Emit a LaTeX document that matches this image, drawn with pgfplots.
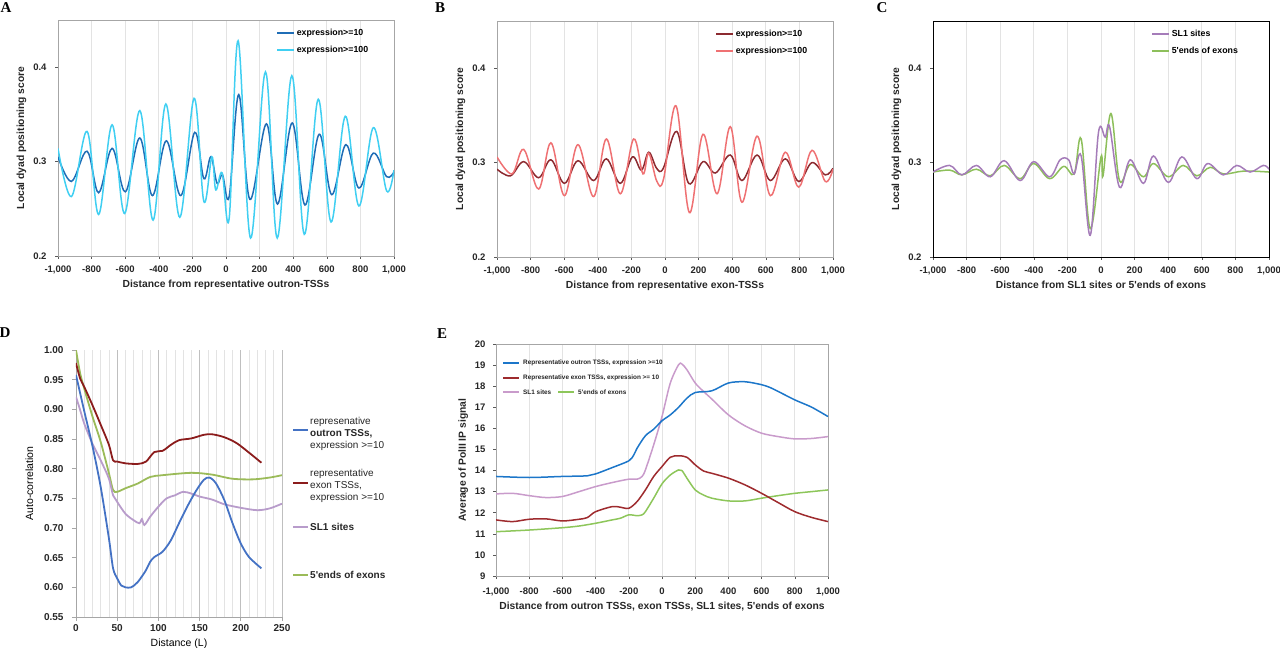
\documentclass[border=0pt]{standalone}
\usepackage{fontspec}
\setmainfont{Liberation Sans}[Ligatures=TeXOff]
\newfontfamily\letterfont{Liberation Serif}
\usepackage{pgfplots}
\pgfplotsset{compat=1.18}
\definecolor{Adark}{HTML}{1F6DB6}
\definecolor{Alight}{HTML}{40CFF2}
\definecolor{Bdark}{HTML}{8C2A30}
\definecolor{Blight}{HTML}{EF7173}
\definecolor{Cpurple}{HTML}{A57CB9}
\definecolor{Cgreen}{HTML}{8DBF5B}
\definecolor{Dblue}{HTML}{4472C4}
\definecolor{Dred}{HTML}{8B1C1C}
\definecolor{Dgreen}{HTML}{9BBB59}
\definecolor{Dpurple}{HTML}{B89CCB}
\definecolor{Eblue}{HTML}{1C76C9}
\definecolor{Ered}{HTML}{9E2B2E}
\definecolor{Epink}{HTML}{C99BCB}
\definecolor{Egreen}{HTML}{8DC65A}
\pgfkeys{/pgf/number format/.cd, assume math mode=true, 1000 sep={,}}
\pgfplotsset{
  dyad/.style={
    scale only axis, width=336pt, height=236pt,
    xmin=-1000, xmax=1000, ymin=0.2, ymax=0.45,
    xtick={-1000,-800,...,1000}, ytick={0.2,0.3,0.4},
    yticklabels={0.2,0.3,0.4},
    tick pos=left, tick align=outside, major tick length=3pt,
    tick style={gray!70!black, line width=0.6pt},
    axis line style={gray!70, line width=0.8pt},
    xmajorgrids, major grid style={gray!22, line width=0.8pt},
    ticklabel style={font=\bfseries\fontsize{9.5}{11}\selectfont, text=black!85},
    xticklabel shift=3pt, yticklabel shift=5pt,
    label style={font=\bfseries\fontsize{10.3}{12}\selectfont, text=black!85},
    ylabel={Local dyad positioning score},
    legend cell align=left,
    legend image code/.code={\draw[#1, line width=1.5pt] (0pt,0pt) -- (17pt,0pt);},
    legend style={at={(0.649,0.97)}, anchor=north west, draw=none, fill=none,
      inner sep=0pt, row sep=5pt, font=\bfseries\fontsize{8.8}{10}\selectfont},
    every axis plot/.append style={line width=1.5pt, smooth, tension=0.6},
  }
}
\begin{document}
\begin{tikzpicture}
\useasboundingbox (0pt,0pt) rectangle (1280pt,648pt);

% ---------------- A ----------------
\begin{axis}[dyad, at={(58pt,392pt)}, anchor=south west,
  xlabel={Distance from representative outron-TSSs}]
\addplot[Adark] coordinates {(-1000,0.305) (-920,0.279) (-827,0.311) (-758,0.267) (-678,0.314) (-599,0.268) (-513,0.325) (-438,0.264) (-355,0.322) (-269,0.264) (-186,0.331) (-132,0.282) (-90,0.305) (-53,0.277) (-21,0.286) (19,0.263) (76,0.371) (142,0.260) (241,0.340) (307,0.255) (394,0.341) (470,0.254) (555,0.329) (629,0.265) (714,0.318) (791,0.272) (877,0.309) (956,0.284) (1000,0.289)};
\addlegendentry{expression>=10}
\addplot[Alight] coordinates {(-1000,0.314) (-920,0.263) (-827,0.332) (-758,0.244) (-678,0.339) (-603,0.245) (-513,0.354) (-434,0.238) (-358,0.361) (-275,0.241) (-190,0.367) (-132,0.258) (-84,0.305) (-61,0.270) (-23,0.288) (19,0.240) (72,0.428) (146,0.219) (235,0.395) (305,0.219) (392,0.391) (466,0.223) (549,0.366) (625,0.236) (710,0.348) (791,0.253) (877,0.336) (956,0.269) (1000,0.291)};
\addlegendentry{expression>=100}
\end{axis}

% ---------------- B ----------------
\begin{axis}[dyad, at={(497pt,391pt)}, anchor=south west,
  xlabel={Distance from representative exon-TSSs}]
\addplot[Bdark] coordinates {(-1000,0.293) (-920,0.286) (-841,0.301) (-752,0.284) (-679,0.303) (-599,0.278) (-518,0.302) (-425,0.281) (-349,0.304) (-266,0.278) (-194,0.306) (-140,0.292) (-97,0.311) (-50,0.294) (-10,0.294) (70,0.333) (141,0.278) (226,0.301) (300,0.289) (389,0.308) (458,0.281) (548,0.308) (627,0.281) (716,0.304) (796,0.280) (875,0.300) (954,0.287) (1000,0.294)};
\addlegendentry{expression>=10}
\addplot[Blight] coordinates {(-1000,0.306) (-911,0.288) (-841,0.314) (-752,0.272) (-679,0.321) (-599,0.265) (-518,0.319) (-425,0.264) (-349,0.325) (-266,0.267) (-187,0.325) (-131,0.288) (-97,0.310) (-48,0.280) (-8,0.283) (66,0.360) (145,0.247) (226,0.330) (310,0.267) (389,0.338) (458,0.258) (548,0.328) (627,0.265) (716,0.311) (796,0.274) (875,0.313) (954,0.280) (1000,0.293)};
\addlegendentry{expression>=100}
\end{axis}

% ---------------- C ----------------
\begin{axis}[dyad, at={(933pt,391pt)}, anchor=south west,
  axis line style={black, line width=0.8pt},
  xlabel={Distance from SL1 sites or 5'ends of exons}]
\addplot[Cgreen, forget plot] coordinates {(-1000,0.290) (-900,0.292) (-828,0.287) (-742,0.293) (-659,0.286) (-576,0.297) (-481,0.283) (-401,0.299) (-306,0.283) (-222,0.296) (-160,0.288) (-118,0.325) (-64,0.230) (0,0.306) (12,0.286) (59,0.352) (110,0.281) (174,0.298) (253,0.285) (312,0.299) (401,0.285) (490,0.297) (570,0.286) (650,0.295) (729,0.288) (850,0.291) (1000,0.290)};
\addplot[Cpurple] coordinates {(-1000,0.290) (-901,0.297) (-828,0.287) (-742,0.297) (-659,0.285) (-576,0.302) (-481,0.281) (-401,0.301) (-306,0.285) (-243,0.303) (-193,0.303) (-160,0.288) (-118,0.307) (-64,0.223) (-15,0.332) (25,0.327) (51,0.338) (110,0.274) (174,0.303) (253,0.278) (312,0.307) (401,0.279) (481,0.306) (570,0.283) (635,0.299) (729,0.287) (808,0.297) (887,0.290) (966,0.297) (1000,0.293)};
\addlegendentry{SL1 sites}
\addlegendimage{Cgreen}
\addlegendentry{5'ends of exons}
\end{axis}

% ---------------- D ----------------
\begin{axis}[at={(76pt,31pt)}, anchor=south west, scale only axis,
  width=206pt, height=267pt,
  xmin=0, xmax=250, ymin=0.55, ymax=1.0,
  xtick={0,50,...,250},
  ytick={0.55,0.6,0.65,0.7,0.75,0.8,0.85,0.9,0.95,1},
  yticklabels={0.55,0.60,0.65,0.70,0.75,0.80,0.85,0.90,0.95,1.00},
  axis x line*=bottom, axis y line*=left,
  axis line style={-, gray!70, line width=0.8pt},
  tick align=outside, major tick length=4pt, minor tick length=0pt,
  tick style={gray!70, line width=0.6pt},
  yticklabel shift=5pt,
  minor xtick={10,20,...,240}, xmajorgrids, xminorgrids,
  major grid style={gray!50, line width=0.8pt},
  minor grid style={gray!22, line width=0.6pt},
  ticklabel style={font=\bfseries\fontsize{10}{11}\selectfont, text=black!85},
  xlabel={Distance (L)}, ylabel={Auto-correlation},
  label style={font=\fontsize{10.5}{12}\selectfont},
  ylabel shift=4pt,
  every axis plot/.append style={line width=1.8pt, smooth, tension=0.5},
]
\addplot[Dgreen] coordinates {(0,1.00) (5,0.961) (10,0.935) (20,0.888) (30,0.845) (40,0.792) (45,0.764) (50,0.761) (60,0.767) (75,0.775) (90,0.786) (105,0.789) (140,0.793) (165,0.790) (190,0.783) (215,0.782) (235,0.785) (250,0.789)};
\addplot[Dpurple] coordinates {(0,0.921) (5,0.899) (10,0.876) (20,0.842) (30,0.814) (40,0.783) (45,0.755) (50,0.744) (60,0.724) (70,0.713) (77,0.708) (80,0.715) (83,0.705) (90,0.719) (100,0.736) (110,0.750) (120,0.755) (130,0.761) (140,0.758) (150,0.753) (165,0.748) (180,0.740) (200,0.734) (220,0.730) (235,0.733) (250,0.741)};
\addplot[Dred] coordinates {(0,0.978) (5,0.952) (10,0.938) (20,0.907) (30,0.874) (40,0.840) (45,0.814) (50,0.812) (60,0.809) (75,0.808) (85,0.812) (95,0.828) (105,0.830) (115,0.840) (125,0.848) (140,0.851) (155,0.857) (165,0.858) (180,0.853) (195,0.843) (210,0.827) (225,0.810)};
\addplot[Dblue] coordinates {(0,0.958) (10,0.897) (20,0.838) (30,0.769) (40,0.682) (45,0.632) (50,0.615) (55,0.603) (60,0.600) (67,0.600) (75,0.609) (85,0.629) (90,0.643) (95,0.651) (105,0.660) (115,0.679) (125,0.708) (135,0.736) (145,0.761) (155,0.781) (162,0.785) (170,0.775) (180,0.747) (190,0.708) (200,0.674) (210,0.651) (225,0.632)};
\end{axis}
% legend D
\begin{scope}[every node/.style={anchor=west, align=left, inner sep=0pt, font=\fontsize{10}{12}\selectfont, text=black!85}]
\draw[Dblue, line width=2pt] (293pt,218pt) -- (308pt,218pt);
\node at (310pt,214pt) {represenative\\\textbf{outron TSSs,}\\expression >=10};
\draw[Dred, line width=2pt] (293pt,165pt) -- (308pt,165pt);
\node at (310pt,162pt) {representative\\exon TSSs,\\expression >=10};
\draw[Dpurple, line width=2pt] (293pt,121pt) -- (308pt,121pt);
\node at (310pt,121pt) {\textbf{SL1 sites}};
\draw[Dgreen, line width=2pt] (293pt,73pt) -- (308pt,73pt);
\node at (310pt,73pt) {\textbf{5'ends of exons}};
\end{scope}

% ---------------- E ----------------
\begin{axis}[at={(496pt,72pt)}, anchor=south west, scale only axis,
  width=332pt, height=232pt,
  xmin=-1000, xmax=1000, ymin=9, ymax=20,
  xtick={-1000,-800,...,1000}, ytick={9,10,...,20},
  tick pos=left, tick align=outside, major tick length=3pt,
  tick style={gray!70!black, line width=0.6pt},
  axis line style={gray!70, line width=0.8pt},
  xmajorgrids, major grid style={gray!22, line width=0.8pt},
  ticklabel style={font=\bfseries\fontsize{9.5}{11}\selectfont, text=black!85},
  xticklabel shift=5pt, yticklabel shift=4pt,
  label style={font=\bfseries\fontsize{10.3}{12}\selectfont, text=black!85},
  xlabel={Distance from outron TSSs, exon TSSs, SL1 sites, 5'ends of exons},
  ylabel={Average of PolII IP signal},
  every axis plot/.append style={line width=1.5pt, smooth, tension=0.5},
]
\addplot[Egreen] coordinates {(-1000,11.10) (-800,11.18) (-600,11.29) (-500,11.37) (-400,11.50) (-300,11.66) (-250,11.74) (-200,11.90) (-150,11.86) (-120,11.90) (-100,12.05) (-50,12.69) (0,13.37) (50,13.79) (100,14.03) (120,14.00) (150,13.64) (200,13.08) (250,12.84) (300,12.69) (400,12.56) (500,12.56) (600,12.69) (700,12.81) (800,12.92) (900,13.00) (1000,13.08)};
\addplot[Ered] coordinates {(-1000,11.66) (-900,11.58) (-800,11.69) (-700,11.71) (-600,11.61) (-500,11.69) (-450,11.77) (-400,12.05) (-300,12.29) (-250,12.26) (-200,12.21) (-150,12.53) (-100,13.08) (-50,13.72) (0,14.19) (50,14.63) (100,14.70) (150,14.63) (200,14.27) (250,13.98) (300,13.87) (400,13.64) (500,13.32) (600,12.92) (700,12.48) (800,12.05) (900,11.78) (1000,11.58)};
\addplot[Epink] coordinates {(-1000,12.89) (-900,12.92) (-800,12.81) (-700,12.72) (-600,12.77) (-500,13.00) (-400,13.24) (-300,13.43) (-200,13.59) (-150,13.59) (-120,13.72) (-100,14.03) (-50,15.22) (0,16.56) (50,18.15) (100,19.02) (120,19.05) (150,18.78) (200,18.15) (250,17.75) (300,17.39) (400,16.64) (500,16.12) (600,15.77) (700,15.61) (800,15.50) (900,15.52) (1000,15.61)};
\addplot[Eblue] coordinates {(-1000,13.72) (-800,13.67) (-600,13.72) (-450,13.75) (-400,13.84) (-300,14.14) (-200,14.46) (-170,14.74) (-150,15.06) (-100,15.65) (-50,15.96) (0,16.36) (50,16.64) (100,17.00) (150,17.43) (200,17.70) (300,17.78) (400,18.15) (500,18.21) (600,18.07) (650,17.94) (700,17.75) (800,17.35) (900,17.01) (1000,16.56)};
\end{axis}
% legend E
\begin{scope}[every node/.style={anchor=west, inner sep=0pt, font=\bfseries\fontsize{6.4}{7}\selectfont, text=black!85}]
\draw[Eblue, line width=1.5pt] (503pt,285pt) -- (519pt,285pt);
\node at (523pt,285pt) {Representative outron TSSs, expression >=10};
\draw[Ered, line width=1.5pt] (503pt,270pt) -- (519pt,270pt);
\node at (523pt,270pt) {Representative exon TSSs, expression >= 10};
\draw[Epink, line width=1.5pt] (503pt,256pt) -- (519pt,256pt);
\node at (523pt,256pt) {SL1 sites};
\draw[Egreen, line width=1.5pt] (558pt,256pt) -- (574pt,256pt);
\node at (578pt,256pt) {5'ends of exons};
\end{scope}

% panel letters
\begin{scope}[every node/.style={inner sep=0pt, font=\letterfont\bfseries\fontsize{15}{15}\selectfont}]
\node at (6pt,640pt) {A};
\node at (440pt,640pt) {B};
\node at (882pt,640pt) {C};
\node at (5pt,315pt) {D};
\node at (442pt,314pt) {E};
\end{scope}
\end{tikzpicture}
\end{document}
